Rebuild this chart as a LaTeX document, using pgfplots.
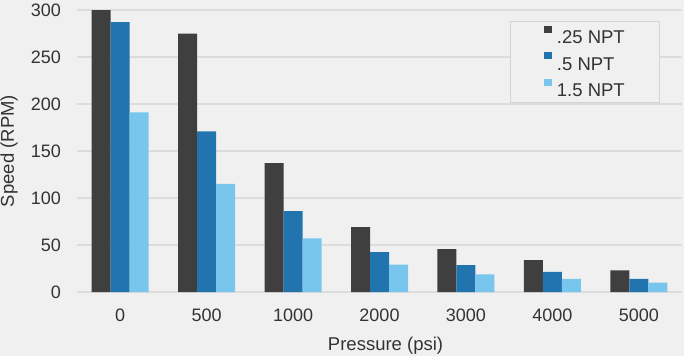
\documentclass[border=0pt]{standalone}
\usepackage{pgfplots}
\pgfplotsset{compat=1.18}
\usepackage{fontspec}
\setmainfont{Liberation Sans}
\definecolor{bg}{HTML}{F0F0F0}
\definecolor{gridc}{HTML}{DCDCDC}
\definecolor{cA}{HTML}{3F3F3F}
\definecolor{cB}{HTML}{2274AE}
\definecolor{cC}{HTML}{78C6EE}
\definecolor{txt}{HTML}{333333}
\definecolor{legc}{HTML}{D4D4D4}
\newcommand{\fs}{\fontsize{18}{21}\selectfont}
\newcommand{\fl}{\fontsize{18.5}{22}\selectfont}
\begin{document}
\begin{tikzpicture}
\fill[bg] (0,0) rectangle (684pt,356pt);
\begin{axis}[
  at={(77pt,64pt)}, anchor=south west,
  scale only axis, width=605pt, height=282pt,
  ybar=0pt, bar width=19pt,
  xmin=-0.5, xmax=6.5, ymin=0, ymax=300,
  xtick={0,...,6}, xticklabels={0,500,1000,2000,3000,4000,5000},
  ytick={0,50,...,300},
  ymajorgrids, grid style={gridc, line width=1.2pt},
  axis line style={draw=none},
  major tick length=0pt,
  /pgf/number format/assume math mode=true,
  tick label style={font=\fs, text=txt, inner sep=0pt},
  xticklabel style={anchor=north},
  xticklabel shift=17pt,
  yticklabel style={anchor=east},
  yticklabel shift=16pt,
  xlabel={Pressure (psi)}, ylabel={Speed (RPM)},
  label style={font=\fl, text=txt, inner sep=0pt},
  xlabel style={at={(axis description cs:0.51,0)}, anchor=north, yshift=-45pt},
  ylabel style={at={(axis description cs:0,0.5)}, anchor=south, yshift=59pt},
  legend style={at={(axis description cs:0.962,0.961)}, anchor=north east,
    draw=legc, fill=bg, font=\fl, text=txt, inner xsep=34pt, inner ysep=5pt,
    nodes={inner sep=0pt}, column sep=5pt, row sep=7pt},
  legend cell align=left,
  legend image code/.code={\fill[#1] (0pt,5pt) rectangle (8pt,12pt);},
]
\addplot[fill=cA, draw=none] coordinates {(0,300) (1,275) (2,137) (3,69) (4,45.5) (5,34) (6,23)};
\addplot[fill=cB, draw=none] coordinates {(0,287) (1,171) (2,86) (3,42.5) (4,28.5) (5,21.5) (6,14)};
\addplot[fill=cC, draw=none] coordinates {(0,191) (1,115) (2,57) (3,29) (4,18.8) (5,14) (6,10)};
\legend{.25 NPT, .5 NPT, 1.5 NPT}
\end{axis}
\pgfresetboundingbox
\useasboundingbox (0,0) rectangle (684pt,356pt);
\end{tikzpicture}
\end{document}
